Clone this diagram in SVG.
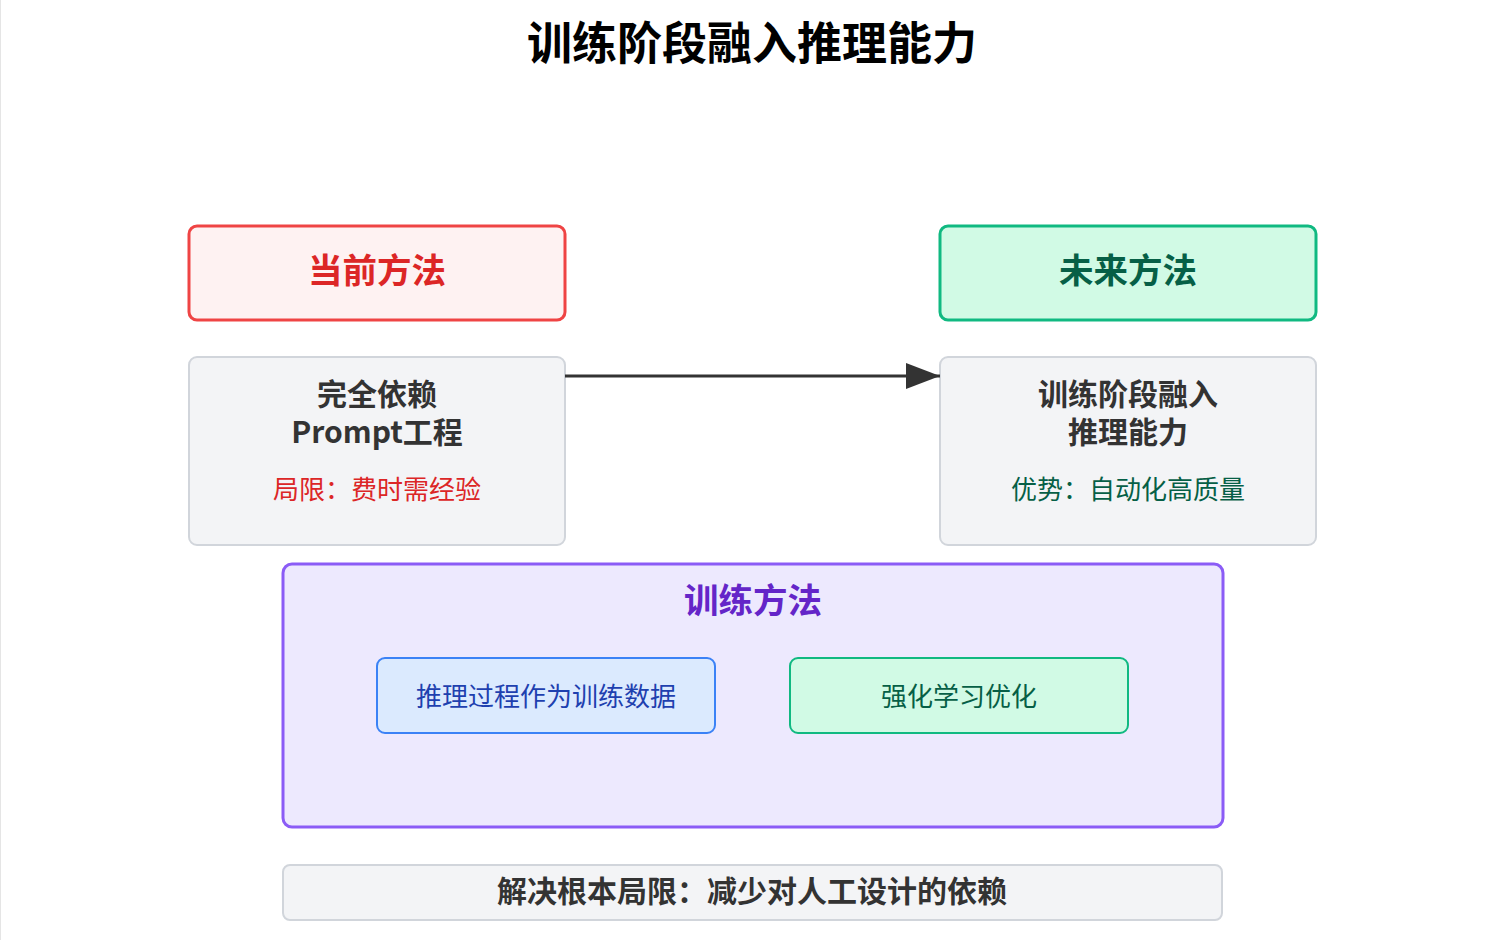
<svg xmlns="http://www.w3.org/2000/svg" width="1505" height="940" viewBox="0 0 1505 940">
<defs>
<style>
text{font-family:"Noto Sans CJK SC","Noto Sans",sans-serif;text-anchor:middle;dominant-baseline:central}
.b{font-weight:700}
.grey{fill:#f3f4f6;stroke:#d1d5db;stroke-width:2}
.dark{fill:#333333}
</style>
<marker id="ah" viewBox="0 0 34 26" refX="34" refY="13" markerWidth="34" markerHeight="26" markerUnits="userSpaceOnUse" orient="auto">
<path d="M0,0 L34,13 L0,26 Z" fill="#333333"/>
</marker>
</defs>
<rect width="1505" height="940" fill="#ffffff"/>
<line x1="0.5" y1="0" x2="0.5" y2="940" stroke="#e5e5e5" stroke-width="1"/>
<text id="title" class="b" x="752" y="40" font-size="45" fill="#000000">训练阶段融入推理能力</text>

<g id="current-header">
<rect x="189" y="226" width="376" height="94" rx="8" fill="#fef2f2" stroke="#ef4444" stroke-width="3"/>
<text class="b" x="377" y="268" font-size="34.5" fill="#dc2626">当前方法</text>
</g>
<g id="future-header">
<rect x="940" y="226" width="376" height="94" rx="8" fill="#d1fae5" stroke="#10b981" stroke-width="3"/>
<text class="b" x="1128" y="268" font-size="34.5" fill="#065f46">未来方法</text>
</g>

<g id="current-node">
<rect class="grey" x="189" y="357" width="376" height="188" rx="8"/>
<text class="b dark" x="377" y="392" font-size="30"><tspan x="377" y="392">完全依赖</tspan><tspan x="377" y="430">Prompt工程</tspan></text>
<text x="377" y="487" font-size="26" fill="#dc2626">局限：费时需经验</text>
</g>
<g id="future-node">
<rect class="grey" x="940" y="357" width="376" height="188" rx="8"/>
<text class="b dark" x="1128" y="392" font-size="30"><tspan x="1128" y="392">训练阶段融入</tspan><tspan x="1128" y="430">推理能力</tspan></text>
<text x="1128" y="487" font-size="26" fill="#065f46">优势：自动化高质量</text>
</g>

<g id="connectors">
<line x1="565" y1="376" x2="940" y2="376" stroke="#333333" stroke-width="3" marker-end="url(#ah)"/>
</g>

<g id="training">
<rect x="283" y="564" width="940" height="263" rx="9" fill="#ede9fe" stroke="#8b5cf6" stroke-width="3"/>
<text class="b" x="753" y="598" font-size="34.5" fill="#6425c8">训练方法</text>
</g>
<g id="data-node">
<rect x="377" y="658" width="338" height="75" rx="8" fill="#dbeafe" stroke="#3b82f6" stroke-width="2"/>
<text x="546" y="694" font-size="26" fill="#1e40af">推理过程作为训练数据</text>
</g>
<g id="rl-node">
<rect x="790" y="658" width="338" height="75" rx="8" fill="#d1fae5" stroke="#10b981" stroke-width="2"/>
<text x="959" y="694" font-size="26" fill="#065f46">强化学习优化</text>
</g>

<g id="summary">
<rect class="grey" x="283" y="865" width="939" height="55" rx="7"/>
<text class="b dark" x="752" y="889" font-size="30">解决根本局限：减少对人工设计的依赖</text>
</g>
</svg>
